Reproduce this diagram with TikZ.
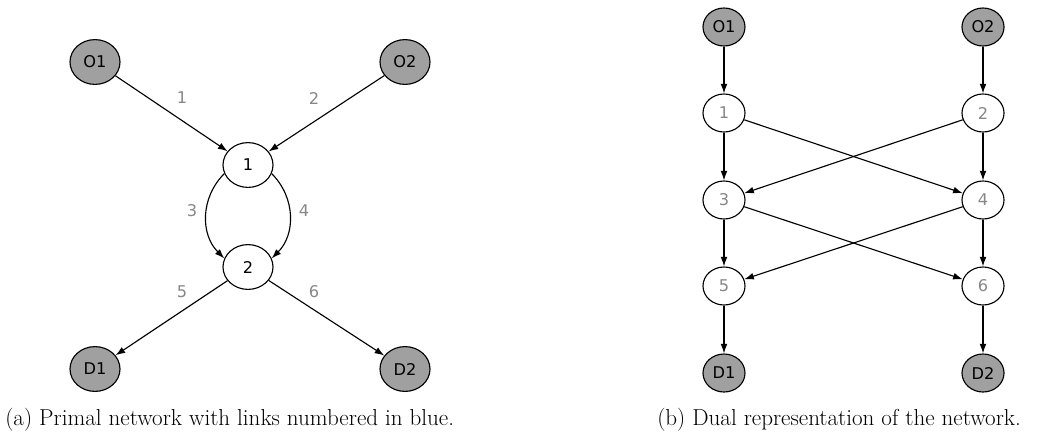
\documentclass[tikz,border=0pt]{standalone}
\usepackage{fontspec}
\newfontfamily\nodefont{DejaVu Sans}
\usetikzlibrary{arrows.meta,shapes.geometric}

\definecolor{nodegray}{RGB}{160,160,160}
\definecolor{labelgray}{RGB}{135,135,135}

\tikzset{
	endnode/.style={draw, ellipse, line width=0.8pt, fill=nodegray, inner sep=0pt, font=\nodefont\fontsize{11.5}{13}\selectfont},
	midnode/.style={draw, ellipse, line width=0.8pt, fill=white, inner sep=0pt, font=\nodefont\fontsize{11.5}{13}\selectfont},
	primal/.style={minimum width=1.25cm, minimum height=1.12cm},
	dual/.style={minimum width=1.05cm, minimum height=0.95cm},
	link/.style={line width=0.8pt, -{Latex[length=2.4mm,width=1.7mm]}},
	linklabel/.style={text=labelgray, font=\nodefont\fontsize{11.5}{13}\selectfont},
	caption/.style={anchor=west, inner sep=0pt, font=\fontsize{16.4}{19}\selectfont}
}

\begin{document}
\begin{tikzpicture}[x=0.025cm, y=-0.025cm]
	\useasboundingbox (0,0) rectangle (1051,435);

	% (a) primal network
	\node[endnode, primal] (po1) at (95,62) {O1};
	\node[endnode, primal] (po2) at (405,62) {O2};
	\node[midnode, primal] (pn1) at (248,165) {1};
	\node[midnode, primal] (pn2) at (248,267) {2};
	\node[endnode, primal] (pd1) at (95,369) {D1};
	\node[endnode, primal] (pd2) at (405,369) {D2};

	\draw[link] (po1) -- (pn1);
	\draw[link] (po2) -- (pn1);
	\draw[link] (pn1.200) .. controls +(-24,24) and +(-24,-24) .. (pn2.160);
	\draw[link] (pn1.-20) .. controls +(24,24) and +(24,-24) .. (pn2.20);
	\draw[link] (pn2) -- (pd1);
	\draw[link] (pn2) -- (pd2);

	\node[linklabel] (pl1) at (182,98) {1};
	\node[linklabel] (pl2) at (314,98) {2};
	\node[linklabel] (pl3) at (192,211) {3};
	\node[linklabel] (pl4) at (304,211) {4};
	\node[linklabel] (pl5) at (182,292) {5};
	\node[linklabel] (pl6) at (314,292) {6};

	\node[caption] (capa) at (5,420) {(a) Primal network with links numbered in blue.};

	% (b) dual representation
	\node[endnode, dual] (do1) at (724,27) {O1};
	\node[endnode, dual] (do2) at (983,27) {O2};
	\node[midnode, dual, text=labelgray] (dn1) at (724,113) {1};
	\node[midnode, dual, text=labelgray] (dn2) at (983,113) {2};
	\node[midnode, dual, text=labelgray] (dn3) at (724,200) {3};
	\node[midnode, dual, text=labelgray] (dn4) at (983,200) {4};
	\node[midnode, dual, text=labelgray] (dn5) at (724,286) {5};
	\node[midnode, dual, text=labelgray] (dn6) at (983,286) {6};
	\node[endnode, dual] (dd1) at (724,373) {D1};
	\node[endnode, dual] (dd2) at (983,373) {D2};

	\draw[link] (do1) -- (dn1);
	\draw[link] (do2) -- (dn2);
	\draw[link] (dn1) -- (dn3);
	\draw[link] (dn1) -- (dn4);
	\draw[link] (dn2) -- (dn4);
	\draw[link] (dn2) -- (dn3);
	\draw[link] (dn3) -- (dn5);
	\draw[link] (dn3) -- (dn6);
	\draw[link] (dn4) -- (dn6);
	\draw[link] (dn4) -- (dn5);
	\draw[link] (dn5) -- (dd1);
	\draw[link] (dn6) -- (dd2);

	\node[caption] (capb) at (657,420) {(b) Dual representation of the network.};

\end{tikzpicture}
\end{document}
